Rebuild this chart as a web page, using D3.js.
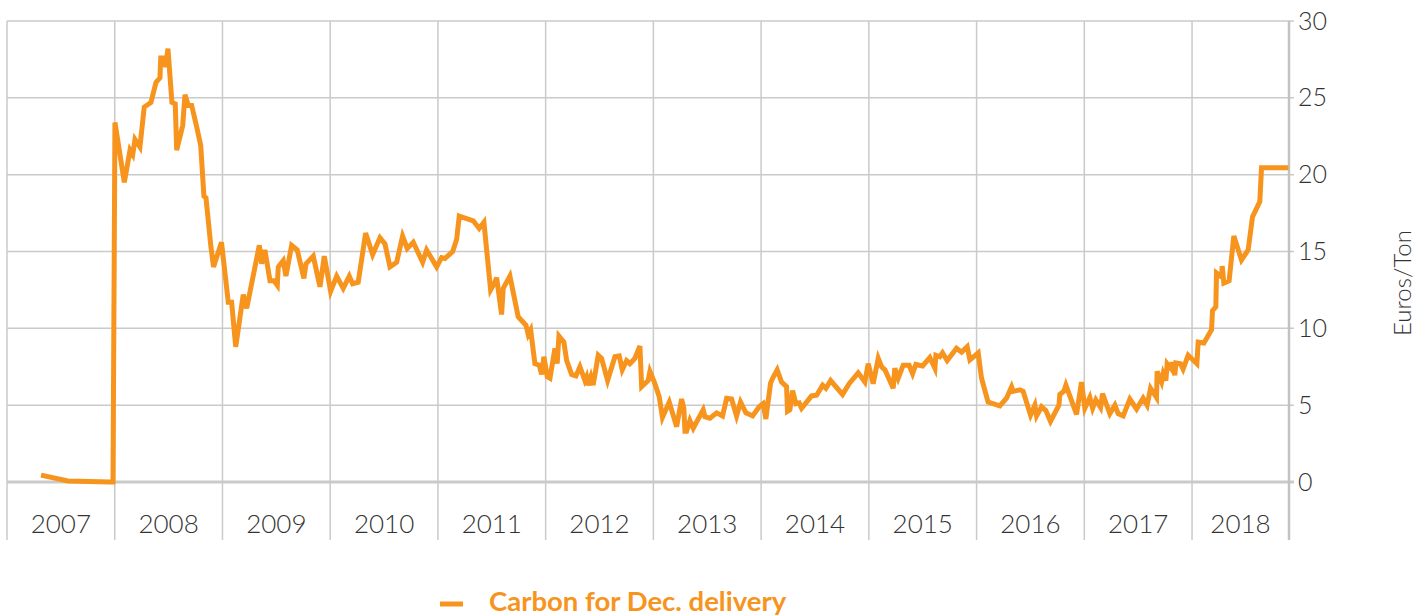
<!DOCTYPE html>
<html>
<head>
<meta charset="utf-8">
<script src="https://cdnjs.cloudflare.com/ajax/libs/d3/7.8.5/d3.min.js"></script>
<style>
    body { margin: 0; background: #fff; }
    svg { display: block; font-family: Lato, "Open Sans", sans-serif; }
</style>
</head>
<body>
<svg></svg>
<script>
var years = [2007, 2008, 2009, 2010, 2011, 2012, 2013, 2014, 2015, 2016, 2017, 2018];
var priceTicks = [0, 5, 10, 15, 20, 25, 30];
var seriesName = 'Carbon for Dec. delivery';
var unitLabel = 'Euros/Ton';

// decimal years
var dates = [
    2007.316, 2007.566, 2007.956, 2007.984, 2008.002, 2008.089, 2008.142, 2008.167, 2008.188, 2008.234,
    2008.274, 2008.336, 2008.383, 2008.420, 2008.427, 2008.457, 2008.473, 2008.494, 2008.531, 2008.562,
    2008.575, 2008.631, 2008.652, 2008.683, 2008.714, 2008.761, 2008.798, 2008.828, 2008.847, 2008.893,
    2008.917, 2008.991, 2009.054, 2009.085, 2009.123, 2009.193, 2009.225, 2009.342, 2009.364, 2009.394,
    2009.441, 2009.478, 2009.509, 2009.518, 2009.564, 2009.589, 2009.642, 2009.694, 2009.756, 2009.775,
    2009.843, 2009.905, 2009.945, 2010.004, 2010.060, 2010.121, 2010.177, 2010.208, 2010.260, 2010.329,
    2010.394, 2010.462, 2010.508, 2010.555, 2010.617, 2010.672, 2010.715, 2010.771, 2010.858, 2010.895,
    2010.988, 2011.034, 2011.065, 2011.137, 2011.174, 2011.198, 2011.328, 2011.383, 2011.427, 2011.489,
    2011.529, 2011.545, 2011.591, 2011.606, 2011.668, 2011.745, 2011.817, 2011.838, 2011.861, 2011.900,
    2011.940, 2011.963, 2011.984, 2012.015, 2012.040, 2012.086, 2012.107, 2012.123, 2012.169, 2012.195,
    2012.241, 2012.281, 2012.318, 2012.364, 2012.380, 2012.395, 2012.420, 2012.441, 2012.488, 2012.519,
    2012.575, 2012.643, 2012.683, 2012.711, 2012.751, 2012.782, 2012.829, 2012.875, 2012.891, 2012.952,
    2012.968, 2013.014, 2013.054, 2013.084, 2013.147, 2013.216, 2013.262, 2013.283, 2013.293, 2013.308,
    2013.339, 2013.370, 2013.462, 2013.478, 2013.525, 2013.587, 2013.642, 2013.680, 2013.726, 2013.772,
    2013.809, 2013.859, 2013.921, 2013.982, 2014.019, 2014.044, 2014.088, 2014.107, 2014.149, 2014.190,
    2014.236, 2014.245, 2014.267, 2014.292, 2014.323, 2014.353, 2014.376, 2014.468, 2014.515, 2014.571,
    2014.601, 2014.645, 2014.756, 2014.817, 2014.901, 2014.963, 2014.994, 2015.040, 2015.087, 2015.118,
    2015.149, 2015.226, 2015.241, 2015.272, 2015.319, 2015.374, 2015.406, 2015.436, 2015.499, 2015.566,
    2015.613, 2015.622, 2015.659, 2015.684, 2015.727, 2015.814, 2015.861, 2015.913, 2015.938, 2016.015,
    2016.046, 2016.107, 2016.216, 2016.278, 2016.325, 2016.340, 2016.402, 2016.432, 2016.501, 2016.541,
    2016.557, 2016.603, 2016.643, 2016.686, 2016.764, 2016.773, 2016.810, 2016.829, 2016.928, 2016.974,
    2017.005, 2017.051, 2017.077, 2017.107, 2017.151, 2017.169, 2017.237, 2017.284, 2017.314, 2017.361,
    2017.423, 2017.485, 2017.546, 2017.583, 2017.615, 2017.670, 2017.676, 2017.717, 2017.732, 2017.757,
    2017.769, 2017.803, 2017.815, 2017.840, 2017.850, 2017.893, 2017.917, 2017.964, 2018.045, 2018.057,
    2018.110, 2018.181, 2018.190, 2018.221, 2018.227, 2018.274, 2018.280, 2018.295, 2018.344, 2018.388,
    2018.459, 2018.521, 2018.561, 2018.629, 2018.645, 2018.894
];

var prices = [
    0.45, 0.07, 0.0, 0.0, 23.4, 19.5, 21.6, 21.3, 22.3, 21.8,
    24.4, 24.7, 26.0, 26.3, 27.6, 27.6, 27.0, 28.2, 24.7, 24.6,
    21.6, 23.2, 25.2, 24.5, 24.5, 23.1, 21.9, 18.6, 18.5, 15.3,
    14.0, 15.6, 11.7, 11.7, 8.8, 12.2, 11.3, 15.4, 14.2, 15.1,
    13.1, 13.1, 12.8, 14.0, 14.4, 13.4, 15.4, 15.1, 13.25, 14.2,
    14.7, 12.7, 14.7, 12.4, 13.4, 12.6, 13.4, 12.9, 13.0, 16.2,
    14.8, 15.9, 15.5, 14.0, 14.3, 16.0, 15.2, 15.6, 14.3, 15.1,
    14.0, 14.6, 14.55, 15.0, 15.8, 17.3, 17.0, 16.5, 16.9, 12.5,
    13.0, 13.3, 10.9, 12.6, 13.4, 10.75, 10.2, 9.6, 9.9, 7.7,
    7.6, 7.0, 8.15, 6.85, 6.75, 8.7, 7.7, 9.5, 9.1, 7.9,
    7.0, 6.9, 7.5, 6.6, 6.85, 6.3, 6.85, 6.3, 8.25, 8.05,
    6.6, 8.15, 8.2, 7.3, 7.9, 7.7, 8.05, 8.85, 6.2, 6.6,
    7.2, 6.4, 5.55, 4.2, 5.2, 3.6, 5.4, 4.8, 3.3, 3.3,
    4.0, 3.5, 4.7, 4.25, 4.15, 4.5, 4.3, 5.45, 5.4, 4.3,
    5.2, 4.5, 4.3, 4.9, 5.1, 4.1, 6.45, 6.75, 7.3, 6.5,
    6.2, 4.6, 4.7, 5.95, 5.1, 5.15, 4.8, 5.6, 5.65, 6.3,
    6.1, 6.6, 5.7, 6.4, 7.1, 6.5, 7.7, 6.4, 8.05, 7.5,
    7.3, 6.1, 7.4, 6.75, 7.6, 7.6, 7.05, 7.65, 7.55, 8.1,
    7.4, 8.25, 8.15, 8.4, 7.9, 8.7, 8.45, 8.8, 7.95, 8.4,
    6.75, 5.2, 4.95, 5.45, 6.2, 5.9, 6.0, 5.9, 4.35, 5.0,
    4.3, 4.9, 4.65, 3.95, 5.0, 5.7, 5.9, 6.3, 4.4, 6.5,
    4.8, 5.5, 4.8, 5.35, 4.85, 5.75, 4.45, 5.0, 4.45, 4.3,
    5.4, 4.75, 5.45, 5.0, 6.1, 5.5, 7.2, 6.5, 7.05, 6.6,
    7.7, 7.4, 7.8, 6.95, 7.75, 7.7, 7.35, 8.25, 7.7, 9.1,
    9.05, 9.9, 11.15, 11.4, 13.6, 13.35, 14.05, 12.95, 13.1, 16.0,
    14.45, 15.1, 17.25, 18.25, 20.45, 20.45
];

var orange = '#f7941d';
var grid = '#cacaca';

var svg = d3.select('svg')
    .attr('width', 1428)
    .attr('height', 616);

var xEnd = 2018.9;
var x = d3.scaleLinear().domain([2007, xEnd]).range([7, 1289]);
var y = d3.scaleLinear().domain([0, 30]).range([482, 21]);

// horizontal grid
svg.append('g')
    .selectAll('line')
    .data(priceTicks)
    .enter().append('line')
    .attr('x1', x(2007))
    .attr('x2', x(xEnd) + 5)
    .attr('y1', d => y(d))
    .attr('y2', d => y(d))
    .attr('stroke', grid)
    .attr('stroke-width', d => d === 0 ? 3 : 1.5);

// year dividers
svg.append('g')
    .selectAll('line')
    .data(years)
    .enter().append('line')
    .attr('x1', d => x(d))
    .attr('x2', d => x(d))
    .attr('y1', y(30))
    .attr('y2', 540)
    .attr('stroke', grid)
    .attr('stroke-width', 1.5);

// right axis line
svg.append('line')
    .attr('x1', x(xEnd)).attr('x2', x(xEnd))
    .attr('y1', y(30)).attr('y2', 540)
    .attr('stroke', '#c2c2c2')
    .attr('stroke-width', 2.5);

// year labels
svg.append('g')
    .selectAll('text')
    .data(years)
    .enter().append('text')
    .attr('x', d => (x(d) + x(Math.min(d + 1, xEnd))) / 2)
    .attr('y', 533)
    .attr('text-anchor', 'middle')
    .attr('font-size', 26)
    .attr('font-weight', 300)
    .attr('fill', '#333')
    .text(d => d);

// right axis
var yAxis = svg.append('g')
    .attr('transform', 'translate(' + x(xEnd) + ',0)')
    .call(d3.axisRight(y).tickValues(priceTicks).tickSize(0).tickPadding(9));
yAxis.select('.domain').remove();
yAxis.selectAll('text')
    .attr('font-family', 'Lato, "Open Sans", sans-serif')
    .attr('font-size', 25)
    .attr('font-weight', 300)
    .attr('fill', '#333');

svg.append('text')
    .attr('transform', 'translate(1405,283) rotate(-90)')
    .attr('text-anchor', 'middle')
    .attr('dominant-baseline', 'middle')
    .attr('font-size', 24)
    .attr('font-weight', 300)
    .attr('fill', '#333')
    .text(unitLabel);

// the series
var line = d3.line()
    .x((d, i) => x(dates[i]))
    .y(d => y(d));

svg.append('path')
    .datum(prices)
    .attr('fill', 'none')
    .attr('stroke', orange)
    .attr('stroke-width', 5)
    .attr('stroke-linejoin', 'miter')
    .attr('d', line);

// legend
svg.append('line')
    .attr('x1', 440).attr('x2', 463)
    .attr('y1', 604).attr('y2', 604)
    .attr('stroke', orange)
    .attr('stroke-width', 5);

svg.append('text')
    .attr('x', 489)
    .attr('y', 611)
    .attr('font-size', 27.5)
    .attr('font-weight', 700)
    .attr('fill', orange)
    .text(seriesName);
</script>
</body>
</html>
